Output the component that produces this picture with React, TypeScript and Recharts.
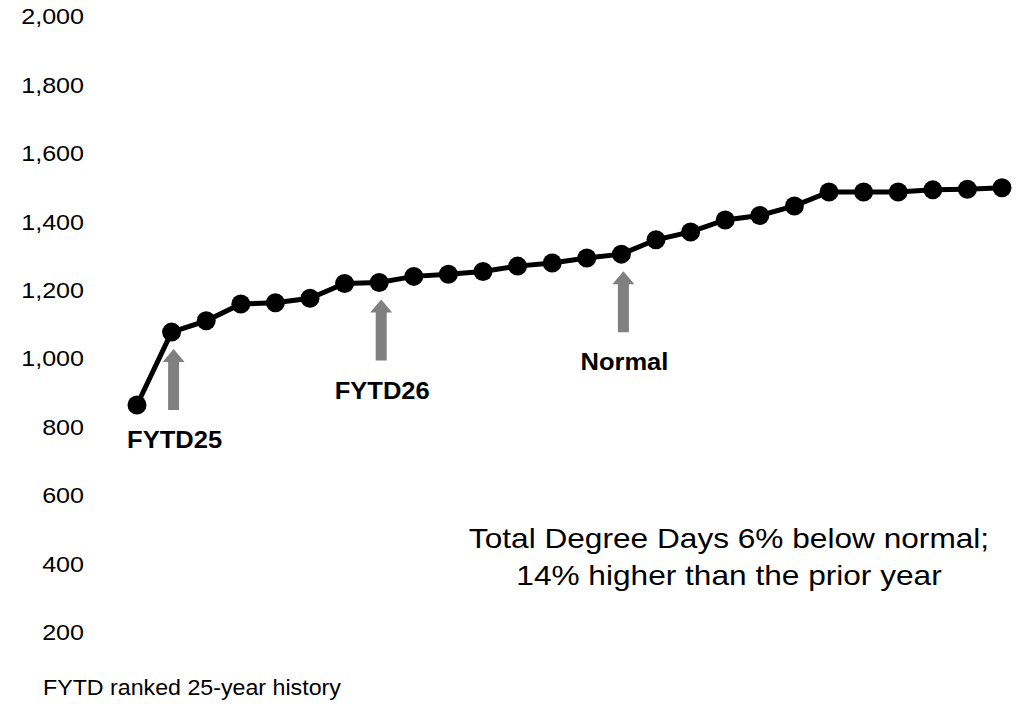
import { LineChart, Line, XAxis, YAxis, ReferenceDot } from "recharts";

// ranked FYTD degree days, 25-year history + current year
const ranks = [
  1, 2, 3, 4, 5, 6, 7, 8, 9, 10, 11, 12, 13, 14, 15, 16, 17, 18, 19, 20, 21,
  22, 23, 24, 25, 26,
];
const degreeDays = [
  864, 1077, 1110, 1159, 1163, 1176, 1219, 1222, 1240, 1246, 1254, 1270, 1279,
  1294, 1305, 1347, 1370, 1405, 1418, 1446, 1487, 1487, 1487, 1493, 1495, 1499,
];
const yTicks = [200, 400, 600, 800, 1000, 1200, 1400, 1600, 1800, 2000];

const annotations = [
  { rank: 2, label: "FYTD25" },
  { rank: 8, label: "FYTD26" },
  { rank: 15, label: "Normal" },
];

const noteLines = [
  "Total Degree Days 6% below normal;",
  "14% higher than the prior year",
];
const xAxisTitle = "FYTD ranked 25-year history";

const data = ranks.map((rank, i) => ({ rank, value: degreeDays[i] }));

const FONT = '"Liberation Sans", Arial, sans-serif';

const YTick = (props: any) => {
  const { x, y, payload } = props;
  return (
    <g transform={`translate(${x},${y})`}>
      <text
        transform="scale(1.14,1)"
        textAnchor="end"
        dy="0.36em"
        fontSize={22}
        fill="#000"
        fontFamily={FONT}
      >
        {Number(payload.value).toLocaleString("en-US")}
      </text>
    </g>
  );
};

// grey up-arrow under a point, with a bold label below it
const arrowMarker = (label: string) => (props: any) => {
  const { cx, cy } = props;
  const ax = cx + 2;
  const tip = cy + 17;
  const bottom = cy + 78;
  const headH = 13;
  const headW = 11;
  const shaft = 5.5;
  const pts = [
    [ax, tip],
    [ax + headW, tip + headH],
    [ax + shaft, tip + headH],
    [ax + shaft, bottom],
    [ax - shaft, bottom],
    [ax - shaft, tip + headH],
    [ax - headW, tip + headH],
  ]
    .map((p) => p.join(","))
    .join(" ");
  return (
    <g>
      <polygon points={pts} fill="#808080" />
      <g transform={`translate(${cx + 3},${cy + 116})`}>
        <text
          transform="scale(1.11,1)"
          textAnchor="middle"
          fontSize={23}
          fontWeight="bold"
          fill="#000"
          fontFamily={FONT}
        >
          {label}
        </text>
      </g>
    </g>
  );
};

export default function App() {
  return (
    <div
      style={{
        position: "absolute",
        left: 0,
        top: 0,
        width: 1028,
        height: 704,
        background: "#fff",
      }}
    >
      <LineChart
        width={1028}
        height={704}
        data={data}
        margin={{ top: 16.5, right: 26, bottom: 72, left: 0 }}
      >
        <XAxis dataKey="rank" type="number" domain={[1, 26]} hide />
        <YAxis
          width={137}
          domain={[200, 2000]}
          ticks={yTicks}
          axisLine={false}
          tickLine={false}
          tickSize={0}
          tickMargin={53}
          tick={<YTick />}
        />
        <Line
          dataKey="value"
          stroke="#000"
          strokeWidth={5}
          dot={{ r: 9.5, fill: "#000", stroke: "#000", strokeWidth: 0 }}
          activeDot={false}
          isAnimationActive={false}
        />
        {annotations.map((a) => (
          <ReferenceDot
            key={a.label}
            x={a.rank}
            y={degreeDays[a.rank - 1]}
            r={0}
            shape={arrowMarker(a.label)}
          />
        ))}
      </LineChart>
      <svg
        width={1028}
        height={704}
        style={{ position: "absolute", left: 0, top: 0, pointerEvents: "none" }}
      >
        {noteLines.map((line, i) => (
          <g key={line} transform={`translate(729,${548 + i * 37})`}>
            <text
              transform="scale(1.13,1)"
              textAnchor="middle"
              fontSize={28}
              fill="#000"
              fontFamily={FONT}
            >
              {line}
            </text>
          </g>
        ))}
        <g transform="translate(43,695)">
          <text
            transform="scale(1.08,1)"
            fontSize={21.5}
            fill="#000"
            fontFamily={FONT}
          >
            {xAxisTitle}
          </text>
        </g>
      </svg>
    </div>
  );
}
